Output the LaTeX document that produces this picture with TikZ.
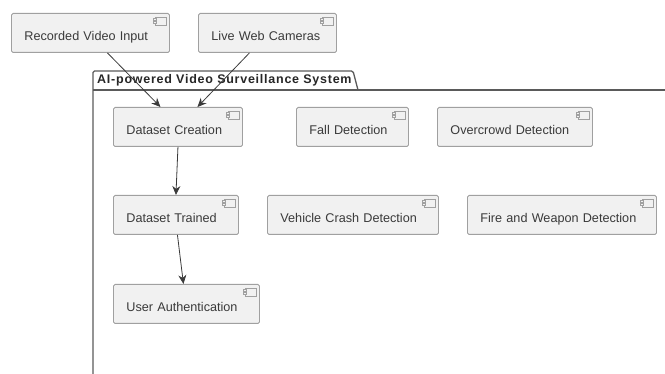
\documentclass[tikz,border=0pt]{standalone}
\usepackage{fontspec}
\setmainfont{Liberation Sans}
\newfontfamily\titlefont[LetterSpace=6]{Liberation Sans}
\usetikzlibrary{arrows.meta}
\definecolor{boxfill}{HTML}{F1F1F1}
\definecolor{boxline}{HTML}{A0A0A0}
\definecolor{inkgray}{HTML}{3A3A3A}
\definecolor{pkgline}{HTML}{5A5A5A}
\tikzset{
  compbox/.style={draw=boxline,fill=boxfill,line width=0.9pt,rounded corners=1.5pt,anchor=north west,
    text=inkgray,font=\fontsize{12.65}{14}\selectfont,inner xsep=13pt,inner ysep=0pt,
    text height=27.5pt,text depth=11.5pt,align=left,text width=#1},
  iconline/.style={draw=boxline,fill=boxfill,line width=0.8pt},
  flow/.style={-{Stealth[length=9pt,width=8pt]},draw=inkgray,line width=0.8pt}
}
\begin{document}
\begin{tikzpicture}[x=1pt,y=-1pt]
  \useasboundingbox (0,0) rectangle (665,374);
  % package outline
  \coordinate (pkgbl) at (93,374);
  \coordinate (pkgtl) at (93,71);
  \coordinate (pkgtr) at (353,71);
  \coordinate (pkgtab) at (358,90);
  \coordinate (pkgsl) at (93,90);
  \coordinate (pkgsr) at (665,90);
  \draw[pkgline,line width=1.3pt,rounded corners=1.5pt] (pkgbl) -- (pkgtl) -- (pkgtr) -- (pkgtab);
  \draw[pkgline,line width=1.3pt] (pkgsl) -- (pkgsr);
  \node[anchor=west,inner sep=0pt,font=\titlefont\fontsize{12.5}{14}\selectfont\bfseries,text=black!85] (pkgtitle) at (97,80.5) {AI-powered Video Surveillance System};
  % components
  \node[compbox=132pt] (rec) at (11,13) {Recorded Video Input};
  \node[compbox=112pt] (live) at (198,13) {Live Web Cameras};
  \node[compbox=103pt] (create) at (113,107) {Dataset Creation};
  \node[compbox=86pt] (fall) at (296,107) {Fall Detection};
  \node[compbox=129pt] (crowd) at (437,107) {Overcrowd Detection};
  \node[compbox=99pt] (train) at (113,195) {Dataset Trained};
  \node[compbox=145pt] (crash) at (267,195) {Vehicle Crash Detection};
  \node[compbox=163pt] (fire) at (467,195) {Fire and Weapon Detection};
  \node[compbox=120pt] (auth) at (113,284) {User Authentication};
  % small component icons
  \foreach \n in {rec,live,create,fall,crowd,train,crash,fire,auth} {
    \draw[iconline] ([shift={(-15,4)}]\n.north east) rectangle ([shift={(-4,12)}]\n.north east);
    \draw[iconline] ([shift={(-17,5.5)}]\n.north east) rectangle ([shift={(-14,7.5)}]\n.north east);
    \draw[iconline] ([shift={(-17,8.5)}]\n.north east) rectangle ([shift={(-14,10.5)}]\n.north east);
  }
  % arrows
  \draw[flow] ([xshift=17pt]rec.south) -- ([xshift=-17.5pt]create.north);
  \draw[flow] ([xshift=-18pt]live.south) -- ([xshift=19.5pt]create.north);
  \draw[flow] (create.south) -- (train.north);
  \draw[flow] ([xshift=1.5pt]train.south) -- ([xshift=-3pt]auth.north);
\end{tikzpicture}
\end{document}
